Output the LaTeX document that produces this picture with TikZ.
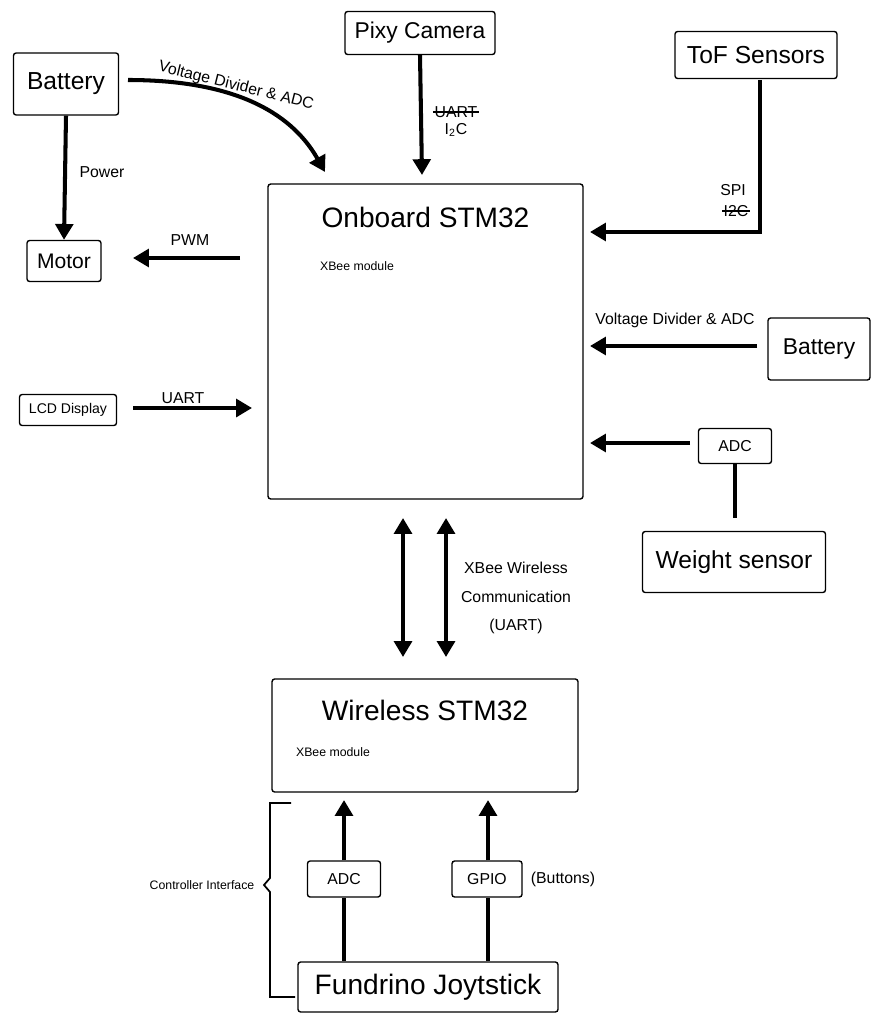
\documentclass[tikz,border=0pt]{standalone}
\usepackage{fontspec}
\setmainfont{Liberation Sans}
\usetikzlibrary{arrows.meta}
\begin{document}
\begin{tikzpicture}[x=0.02cm,y=-0.02cm,
  box/.style={draw,rounded corners=1.5pt,line width=0.8pt,inner sep=0pt},
  wire/.style={line width=2.3pt},
  arr/.style={wire,-{Triangle[length=9pt,width=10pt]}},
  darr/.style={wire,{Triangle[length=9pt,width=10pt]}-{Triangle[length=9pt,width=10pt]}},
  lbl/.style={font=\fontsize{9}{10}\selectfont},
  struck/.style={inner sep=1pt,path picture={\draw[line width=0.6pt]
    (path picture bounding box.west) -- (path picture bounding box.east);}}]
% Margins
\useasboundingbox (0,0) rectangle (877,1024);

% Main boxes
\node[box,minimum width=6.3cm,minimum height=6.3cm] (onboard) at (425.5,341.5) {};
\node[font=\fontsize{16}{18}\selectfont] (onboardT) at (425.5,217) {Onboard STM32};
\node[font=\fontsize{7}{8}\selectfont] (onboardX) at (357,266) {XBee module};
\node[box,minimum width=6.12cm,minimum height=2.26cm] (wireless) at (425,735.5) {};
\node[font=\fontsize{16}{18}\selectfont] (wirelessT) at (425,710) {Wireless STM32};
\node[font=\fontsize{7}{8}\selectfont] (wirelessX) at (333,752) {XBee module};

% Peripherals
\node[box,minimum width=2.1cm,minimum height=1.24cm,font=\fontsize{14}{16}\selectfont] (battA) at (66,84) {Battery};
\node[box,minimum width=3cm,minimum height=0.86cm,font=\fontsize{13}{15}\selectfont] (pixy) at (420,33) {Pixy Camera};
\node[box,minimum width=3.24cm,minimum height=0.94cm,font=\fontsize{14}{16}\selectfont] (tof) at (756,55) {ToF Sensors};
\node[box,minimum width=1.48cm,minimum height=0.82cm,font=\fontsize{12}{14}\selectfont] (motor) at (64,261) {Motor};
\node[box,minimum width=1.94cm,minimum height=0.62cm,font=\fontsize{8}{9}\selectfont] (lcd) at (68,410) {LCD Display};
\node[box,minimum width=2.04cm,minimum height=1.24cm,font=\fontsize{13}{15}\selectfont] (battB) at (819,349) {Battery};
\node[box,minimum width=1.46cm,minimum height=0.7cm,lbl] (adcR) at (735,446) {ADC};
\node[box,minimum width=3.66cm,minimum height=1.22cm,font=\fontsize{14}{16}\selectfont] (weight) at (734,562) {Weight sensor};
\node[box,minimum width=1.46cm,minimum height=0.72cm,lbl] (adcB) at (344,879) {ADC};
\node[box,minimum width=1.4cm,minimum height=0.72cm,lbl] (gpio) at (487,879) {GPIO};
\node[box,minimum width=5.2cm,minimum height=1cm,font=\fontsize{16}{18}\selectfont] (joy) at (428,987) {Fundrino Joytstick};

% Connection points
\coordinate (battOut) at (128,80);
\coordinate (inBatt) at (325,172);
\coordinate (inPixy) at (422,175);
\coordinate (tofOut) at (760,80);
\coordinate (tofBend) at (760,232);
\coordinate (inTof) at (590,232);
\coordinate (outPwm) at (240,258);
\coordinate (inMotor) at (133,258);
\coordinate (lcdOut) at (133,408);
\coordinate (inLcd) at (252,408);
\coordinate (battBOut) at (757,346);
\coordinate (inBattB) at (590,346);
\coordinate (adcROut) at (690,443);
\coordinate (inAdc) at (590,443);
\coordinate (weightIn) at (735,518);
\coordinate (inWlA) at (344,800);
\coordinate (inWlB) at (488,800);

% Connectors
\draw[arr] (battOut) .. controls (230,80) and (290,110) .. (inBatt);
\node[lbl,rotate=-14] (lblVd) at (236,86) {Voltage Divider \& ADC};
\draw[arr] (battA.south) -- (motor.north);
\node[lbl] (lblPow) at (102,172) {Power};
\draw[arr] (pixy.south) -- (inPixy);
\node[lbl,struck] (lblUart) at (456,112) {UART};
\node[lbl] (lblI2c) at (456,130) {I\textsubscript{2}C};
\draw[arr] (tofOut) -- (tofBend) -- (inTof);
\node[lbl] (lblSpi) at (733,190) {SPI};
\node[lbl,struck] (lblI2cB) at (736,211) {I2C};
\draw[arr] (outPwm) -- (inMotor);
\node[lbl] (lblPwm) at (190,240) {PWM};
\draw[arr] (lcdOut) -- (inLcd);
\node[lbl] (lblLcd) at (183,398) {UART};
\draw[arr] (battBOut) -- (inBattB);
\node[lbl] (lblVdB) at (675,320) {Voltage Divider \& ADC};
\draw[arr] (adcROut) -- (inAdc);
\draw[wire] (adcR.south) -- (weightIn);

% Wireless link
\draw[darr] (403,518) -- (403,657);
\draw[darr] (446,518) -- (446,657);
\node[lbl,align=center] (lblXb) at (516,598) {XBee Wireless\\[6pt]Communication\\[6pt](UART)};

% Controller interface
\draw[arr] (adcB.north) -- (inWlA);
\draw[wire] (joy.north -| adcB) -- (adcB.south);
\draw[arr] (gpio.north -| inWlB) -- (inWlB);
\draw[wire] (joy.north -| inWlB) -- (gpio.south -| inWlB);
\node[lbl] (lblBtn) at (563,879) {(Buttons)};
\draw[line width=1pt] (291,803) -- (270,803) -- (270,878) -- (264,885) -- (270,892) -- (270,997) -- (295,997);
\node[font=\fontsize{7}{8}\selectfont] (lblCi) at (202,885) {Controller Interface};
\end{tikzpicture}
\end{document}
